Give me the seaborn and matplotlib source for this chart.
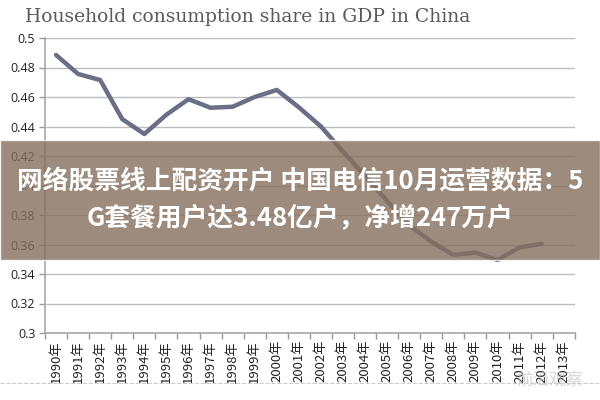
import numpy as np
import pandas as pd
import matplotlib
matplotlib.use("Agg")
import matplotlib.pyplot as plt
from matplotlib.patches import Rectangle
from matplotlib.lines import Line2D
import seaborn as sns

# data
years = [f"{y}年" for y in range(1990, 2014)]
share = [0.4885, 0.4756, 0.4715, 0.4450, 0.4349, 0.4480, 0.4585, 0.4527,
         0.4534, 0.4600, 0.4648, 0.4530, 0.4400, 0.4230, 0.4065, 0.3895,
         0.3730, 0.3619, 0.3529, 0.3545, 0.3495, 0.3580, 0.3605]
y_ticks = [0.3, 0.32, 0.34, 0.36, 0.38, 0.4, 0.42, 0.44, 0.46, 0.48, 0.5]
title = "Household consumption share in GDP in China"
banner_lines = ["网络股票线上配资开户 中国电信10月运营数据：5",
                "G套餐用户达3.48亿户，净增247万户"]
watermark = "前沿观察"

sns.set_theme(style="white")
plt.rcParams['font.family'] = ['Open Sans', 'Noto Sans CJK SC', 'DejaVu Sans']

df = pd.DataFrame({"pos": np.arange(len(share)), "share": share})

fig = plt.figure(figsize=(6, 4), dpi=100)
ax = fig.add_axes([0.075, 0.1675, 0.883, 0.7375])

for t in y_ticks:
    ax.axhline(t, color="#bdbdbd", linewidth=1.0, zorder=0)

sns.lineplot(data=df, x="pos", y="share", ax=ax, color="#6a6e86",
             linewidth=3.2, zorder=3)

ax.set_xlim(-0.5, len(years) - 0.5)
ax.set_ylim(0.3, 0.5)
ax.set_yticks(y_ticks)
ax.set_yticklabels([f"{t:g}" for t in y_ticks], fontsize=9, color="#222222")
ax.set_xticks(np.arange(len(years)))
ax.set_xticklabels(years, rotation=90, fontsize=9.5, color="#222222",
                   family=['Noto Sans CJK SC', 'DejaVu Sans'])
ax.set_xticks(np.arange(len(years) + 1) - 0.5, minor=True)
ax.tick_params(axis="x", which="major", length=0, pad=5)
ax.tick_params(axis="x", which="minor", length=4, color="#999999", width=1,
               direction="out", bottom=True)
ax.tick_params(axis="y", length=4, color="#999999", width=1, left=True, pad=3)
ax.set_xlabel("")
ax.set_ylabel("")
for side in ["top", "right"]:
    ax.spines[side].set_visible(False)
ax.spines["left"].set_color("#aaaaaa")
ax.spines["bottom"].set_color("#aaaaaa")

fig.text(0.042, 0.958, title, fontsize=13.5, color="#5a5a5a",
         family="DejaVu Serif", va="center", ha="left")

# overlay banner
fig.patches.append(Rectangle((0, 0.35), 1, 0.30, transform=fig.transFigure,
                             facecolor="#85705e", alpha=0.8, zorder=10))
fig.text(0.5, 0.545, banner_lines[0], fontsize=18.5, color="white",
         fontweight="bold", ha="center", va="center", zorder=11,
         family=['Noto Sans CJK SC', 'DejaVu Sans'])
fig.text(0.5, 0.455, banner_lines[1], fontsize=18.5, color="white",
         fontweight="bold", ha="center", va="center", zorder=11,
         family=['Noto Sans CJK SC', 'DejaVu Sans'])

fig.lines.append(Line2D([0, 1], [0.042, 0.042], transform=fig.transFigure,
                        color="#cccccc", linestyle="--", linewidth=0.8))
fig.text(0.915, 0.05, watermark, fontsize=12, color="#bbbbbb", alpha=0.6,
         ha="center", va="center", family=['Noto Sans CJK SC', 'DejaVu Sans'])

fig.savefig("out.png", dpi=100, facecolor="white")
